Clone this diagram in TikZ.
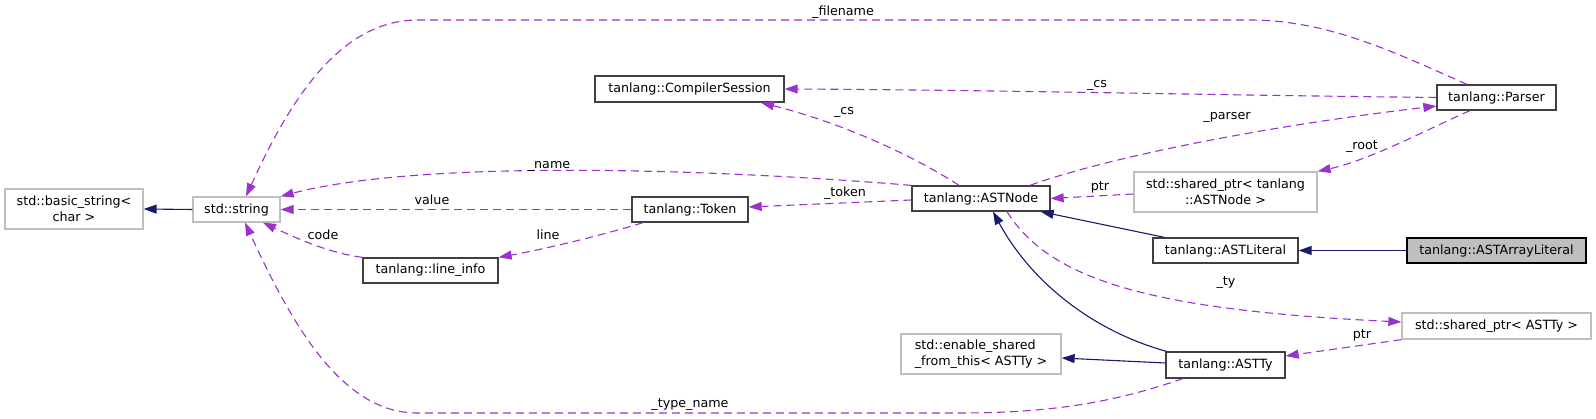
\documentclass[tikz,border=0pt]{standalone}
\usepackage{fontspec}
\setmainfont{DejaVu Sans}
\usetikzlibrary{arrows.meta}
\definecolor{usecol}{HTML}{9A32CD}
\definecolor{inhcol}{HTML}{191970}
\definecolor{extgray}{HTML}{BFBFBF}
\definecolor{bordgray}{HTML}{404040}
\tikzset{
  txt/.style={font=\fontsize{12.7pt}{16pt}\selectfont},
  cls/.style={txt, draw=bordgray, line width=1.3pt, fill=white, inner sep=0pt, align=center},
  ext/.style={cls, draw=extgray},
  cur/.style={cls, draw=black, fill=extgray},
  usee/.style={draw=usecol, line width=1.1pt, dash pattern=on 8pt off 5pt,
    -{Triangle[length=13pt,width=9pt,fill=usecol]}},
  inh/.style={draw=inhcol, line width=1.1pt,
    -{Triangle[length=13pt,width=9pt,fill=inhcol]}},
  lbl/.style={txt, inner sep=0pt}
}
\begin{document}
\begin{tikzpicture}[x=1pt,y=-1pt]
\useasboundingbox (0,0) rectangle (1596,419);
% nodes
\node[ext, minimum width=138pt, minimum height=40pt] (bstr) at (74,209) {std::basic\_string<\\char >};
\node[ext, minimum width=87pt, minimum height=25pt] (str) at (236.5,209.5) {std::string};
\node[cls, minimum width=135pt, minimum height=25pt] (linfo) at (430.5,270.5) {tanlang::line\_info};
\node[cls, minimum width=189pt, minimum height=26pt] (cs) at (689.5,89) {tanlang::CompilerSession};
\node[cls, minimum width=116pt, minimum height=25pt] (tok) at (690,209.5) {tanlang::Token};
\node[cls, minimum width=138pt, minimum height=25pt] (node) at (981,198.5) {tanlang::ASTNode};
\node[cls, minimum width=119pt, minimum height=25pt] (parser) at (1496.5,97.5) {tanlang::Parser};
\node[ext, minimum width=183pt, minimum height=40pt] (sptrn) at (1225.5,192) {std::shared\_ptr< tanlang\\::ASTNode >};
\node[cls, minimum width=145pt, minimum height=25pt] (lit) at (1225.5,250.5) {tanlang::ASTLiteral};
\node[cur, minimum width=179pt, minimum height=25pt] (alit) at (1496.5,250.5) {tanlang::ASTArrayLiteral};
\node[ext, minimum width=189pt, minimum height=26pt] (sptrt) at (1496.5,326) {std::shared\_ptr< ASTTy >};
\node[ext, minimum width=160pt, minimum height=40pt, align=left] (esft) at (981,354) {std::enable\_shared\\\_from\_this< ASTTy >};
\node[cls, minimum width=119pt, minimum height=26pt] (ty) at (1225.5,365) {tanlang::ASTTy};
% inheritance
\draw[inh] (str.west) -- (bstr.east);
\draw[inh] ([xshift=12pt]lit.north west) -- ([xshift=-10pt]node.south east);
\draw[inh] (alit.west) -- (lit.east);
\draw[inh] ([xshift=1pt]ty.north west) .. controls (1090,330) and (1030,280) .. ([xshift=12pt]node.south);
\draw[inh] ([yshift=2pt]ty.west) -- ([yshift=-4pt]esft.east);
% usage
\draw[usee] ([xshift=-29.5pt]parser.north) .. controls (1400,55) and (1330,20) .. (1250,20) -- (418,20) .. controls (340,20) and (290,100) .. ([xshift=9.5pt]str.north);
\draw[usee] (node.north west) .. controls (700,168) and (420,160) .. (str.north east);
\draw[usee] (tok.west) -- (str.east);
\draw[usee] ([yshift=-1.5pt]node.west) -- ([yshift=2.5pt]tok.east);
\draw[usee] (linfo.north west) .. controls (330,253) and (300,240) .. ([xshift=26.5pt]str.south);
\draw[usee] ([xshift=-47pt]tok.south) .. controls (600,236) and (540,250) .. (linfo.north east);
\draw[usee] ([xshift=-22pt]node.north) .. controls (920,160) and (850,125) .. ([xshift=71.5pt]cs.south);
\draw[usee] (parser.west) .. controls (1200,95) and (1000,90) .. (cs.east);
\draw[usee] ([xshift=49pt]node.north) .. controls (1100,160) and (1250,128) .. ([yshift=-8.5pt]parser.west);
\draw[usee] ([xshift=-26.5pt]parser.south) .. controls (1430,128) and (1370,160) .. (sptrn.north east);
\draw[usee] ([yshift=-2pt]sptrn.west) -- (node.east);
\draw[usee] ([xshift=26pt]node.south) .. controls (1050,280) and (1150,310) .. ([yshift=4pt]sptrt.west);
\draw[usee] (sptrt.south west) -- ([yshift=9pt]ty.east);
\draw[usee] ([xshift=-42.5pt]ty.south) .. controls (1120,400) and (1060,413) .. (960,413) -- (417,413) .. controls (340,413) and (290,320) .. ([xshift=8.5pt]str.south);
% labels
\node[lbl] (l1) at (843,12) {\_filename};
\node[lbl] (l2) at (1097,85) {\_cs};
\node[lbl] (l3) at (844,112) {\_cs};
\node[lbl] (l4) at (1227,117) {\_parser};
\node[lbl] (l5) at (1362,147) {\_root};
\node[lbl] (l6) at (549,166) {\_name};
\node[lbl] (l7) at (432,200) {value};
\node[lbl] (l8) at (845,193) {\_token};
\node[lbl] (l9) at (1100,187) {ptr};
\node[lbl] (l10) at (323,235) {code};
\node[lbl] (l11) at (548,235) {line};
\node[lbl] (l12) at (1226,283) {\_ty};
\node[lbl] (l13) at (1362,335) {ptr};
\node[lbl] (l14) at (690,405) {\_type\_name};
\end{tikzpicture}
\end{document}
